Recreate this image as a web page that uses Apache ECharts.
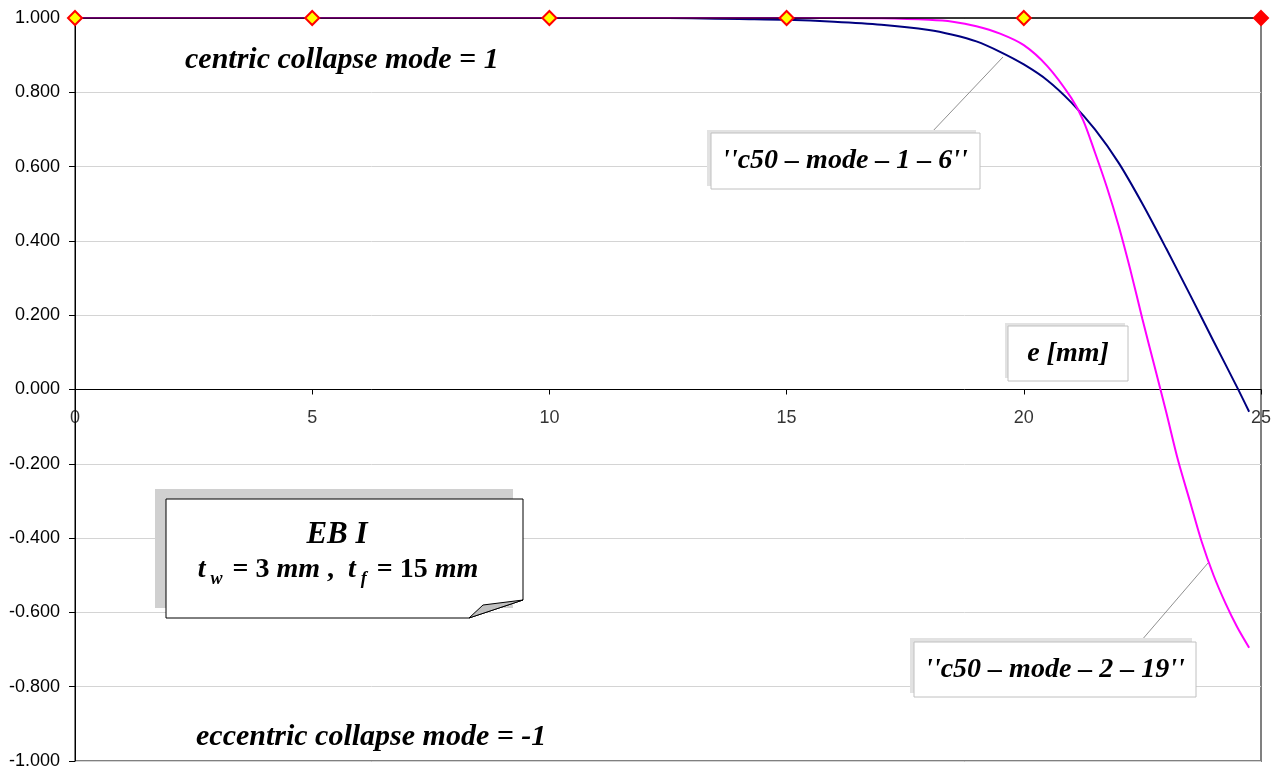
<!DOCTYPE html>
<html><head><meta charset="utf-8">
<script src="https://cdn.jsdelivr.net/npm/echarts@6/dist/echarts.min.js"></script>
<style>html,body{margin:0;padding:0;background:#fff}#c{width:1285px;height:771px}</style>
</head><body><div id="c"></div>
<script>
// ---- data ----
const modeX = [0, 5, 10, 15, 20, 25];
const modeY = [1, 1, 1, 1, 1, 1];

const c50m1X = [0, 5, 10, 12, 13, 14, 15, 16, 17, 18, 18.5, 19, 19.5, 20, 20.5, 21, 21.5, 22, 22.5, 23, 23.5, 24, 24.5, 24.75];
const c50m1Y = [1, 1, 1, 1, 0.999, 0.997, 0.995, 0.99, 0.982, 0.968, 0.955, 0.937, 0.909, 0.875, 0.832, 0.773, 0.70, 0.61, 0.50, 0.38, 0.256, 0.13, 0.005, -0.06];

const c50m2X = [0, 5, 10, 15, 16, 17, 18, 18.5, 19, 19.5, 20, 20.5, 21, 21.25, 21.5, 21.75, 22, 22.25, 22.5, 22.75, 23, 23.25, 23.5, 23.75, 24, 24.25, 24.5, 24.75];
const c50m2Y = [1, 1, 1, 1, 1, 0.999, 0.995, 0.99, 0.978, 0.958, 0.927, 0.87, 0.785, 0.725, 0.638, 0.545, 0.44, 0.32, 0.19, 0.065, -0.06, -0.19, -0.30, -0.41, -0.50, -0.575, -0.64, -0.695];

const xTicks = [0, 5, 10, 15, 20, 25];
const yTickFmt = v => v.toFixed(3);

// ---- chart ----
const chart = echarts.init(document.getElementById('c'), null, {renderer: 'canvas'});
const zip = (xs, ys) => xs.map((x, i) => [x, ys[i]]);
const serif = '"Liberation Serif", "Times New Roman", serif';
const sans = '"Liberation Sans", Arial, sans-serif';
const boldIt = (size) => ({fontFamily: serif, fontWeight: 'bold', fontStyle: 'italic', fontSize: size, fill: '#000'});

const modeData = modeX.map((x, i) => {
  const d = {value: [x, modeY[i]]};
  if (i === modeX.length - 1) d.itemStyle = {color: '#ff0000', borderColor: '#ff0000'};
  return d;
});

function calloutBox(x, y, w, h, sx, sy, shadowColor, text, cx, cy) {
  return [
    {type: 'rect', shape: {x: x + sx, y: y + sy, width: w, height: h}, style: {fill: shadowColor}, z: 50},
    {type: 'rect', shape: {x: x, y: y, width: w, height: h}, style: {fill: '#fff', stroke: '#c0c0c0', lineWidth: 1}, z: 51},
    {type: 'text', x: cx, y: cy, style: Object.assign(boldIt(28), {text: text, align: 'center', verticalAlign: 'middle'}), z: 52}
  ];
}

const graphics = [].concat(
  [{type: 'text', x: 185, y: 60, style: Object.assign(boldIt(30), {text: 'centric collapse mode = 1', verticalAlign: 'middle'}), z: 52},
   {type: 'text', x: 196, y: 737, style: Object.assign(boldIt(30), {text: 'eccentric collapse mode = -1', verticalAlign: 'middle'}), z: 52},
   // leader lines
   {type: 'line', shape: {x1: 931, y1: 133, x2: 1003, y2: 57}, style: {stroke: '#909090', lineWidth: 1}, z: 49},
   {type: 'line', shape: {x1: 1141, y1: 641, x2: 1208, y2: 563}, style: {stroke: '#909090', lineWidth: 1}, z: 49}],
  calloutBox(711, 133, 269, 56, -4, -3, '#e2e2e2', "''c50 – mode – 1 – 6''", 845, 161),
  calloutBox(914, 642, 282, 55, -4, -4, '#e2e2e2', "''c50 – mode – 2 – 19''", 1055, 670),
  calloutBox(1008, 326, 120, 55, -3, -3, '#e2e2e2', 'e [mm]', 1068, 354),
  [
    {type: 'rect', shape: {x: 155, y: 489, width: 358, height: 119}, style: {fill: '#d0d0d0'}, z: 50},
    {type: 'polygon', shape: {points: [[166, 499], [523, 499], [523, 600], [469, 618], [166, 618]]}, style: {fill: '#fff', stroke: '#000', lineWidth: 1}, z: 51},
    {type: 'polygon', shape: {points: [[469, 618], [483, 605], [523, 600]]}, style: {fill: '#c0c0c0', stroke: '#000', lineWidth: 1}, z: 52},
    {type: 'text', x: 337, y: 535, style: Object.assign(boldIt(31), {text: 'EB I', align: 'center', verticalAlign: 'middle'}), z: 53},
    {type: 'text', x: 338, y: 570, z: 53, style: {
      text: '{i|t}{s|w}{n| = 3 }{i|mm}{n| ,  }{i|t}{s|f}{n| = 15 }{i|mm}',
      align: 'center', verticalAlign: 'middle',
      rich: {
        i: {fontFamily: serif, fontWeight: 'bold', fontStyle: 'italic', fontSize: 28, fill: '#000'},
        n: {fontFamily: serif, fontWeight: 'bold', fontSize: 28, fill: '#000'},
        s: {fontFamily: serif, fontWeight: 'bold', fontStyle: 'italic', fontSize: 18, fill: '#000', padding: [18, 3, 0, 5]}
      }
    }}
  ]
);

chart.setOption({
  animation: false,
  backgroundColor: '#fff',
  grid: {left: 75, right: 24, top: 18, bottom: 10, show: true, borderColor: '#808080', borderWidth: 2,
    containLabel: false, outerBoundsMode: 'none'},
  xAxis: {
    type: 'value', min: 0, max: 25, interval: 5,
    axisLine: {show: true, onZero: true, lineStyle: {color: '#000', width: 1}},
    axisTick: {show: true, inside: false, length: 5, lineStyle: {color: '#000'}},
    axisLabel: {show: false},
    splitLine: {show: false}
  },
  yAxis: {
    type: 'value', min: -1, max: 1, interval: 0.2,
    axisLine: {show: true, onZero: false, lineStyle: {color: '#000', width: 1}},
    axisTick: {show: true, inside: false, length: 6, lineStyle: {color: '#000'}},
    axisLabel: {show: true, margin: 15, color: '#000', fontFamily: sans, fontSize: 18, formatter: yTickFmt},
    splitLine: {show: true, lineStyle: {color: '#d4d4d4', width: 1}}
  },
  series: [
    {type: 'line', name: 'mode', data: modeData, symbol: 'diamond', symbolSize: 14, showSymbol: true,
      lineStyle: {color: '#000', width: 1.5}, itemStyle: {color: '#ffff00', borderColor: '#ff0000', borderWidth: 2}, z: 5},
    {type: 'line', name: 'c50 – mode – 1 – 6', data: zip(c50m1X, c50m1Y), smooth: 0.3, showSymbol: false, symbol: 'none',
      lineStyle: {color: '#000080', width: 2}, z: 3},
    {type: 'line', name: 'c50 – mode – 2 – 19', data: zip(c50m2X, c50m2Y), smooth: 0.3, showSymbol: false, symbol: 'none',
      lineStyle: {color: '#ff00ff', width: 2}, z: 4},
    // x tick labels placed on the zero line (axis crosses at y = 0)
    {type: 'scatter', name: 'xlabels', data: xTicks.map(x => [x, 0]), symbolSize: 0, silent: true, z: 6,
      label: {show: true, position: 'bottom', distance: 20, color: '#000', fontFamily: sans, fontSize: 18,
        formatter: p => String(p.value[0])}}
  ],
  graphic: graphics
});
</script></body></html>
